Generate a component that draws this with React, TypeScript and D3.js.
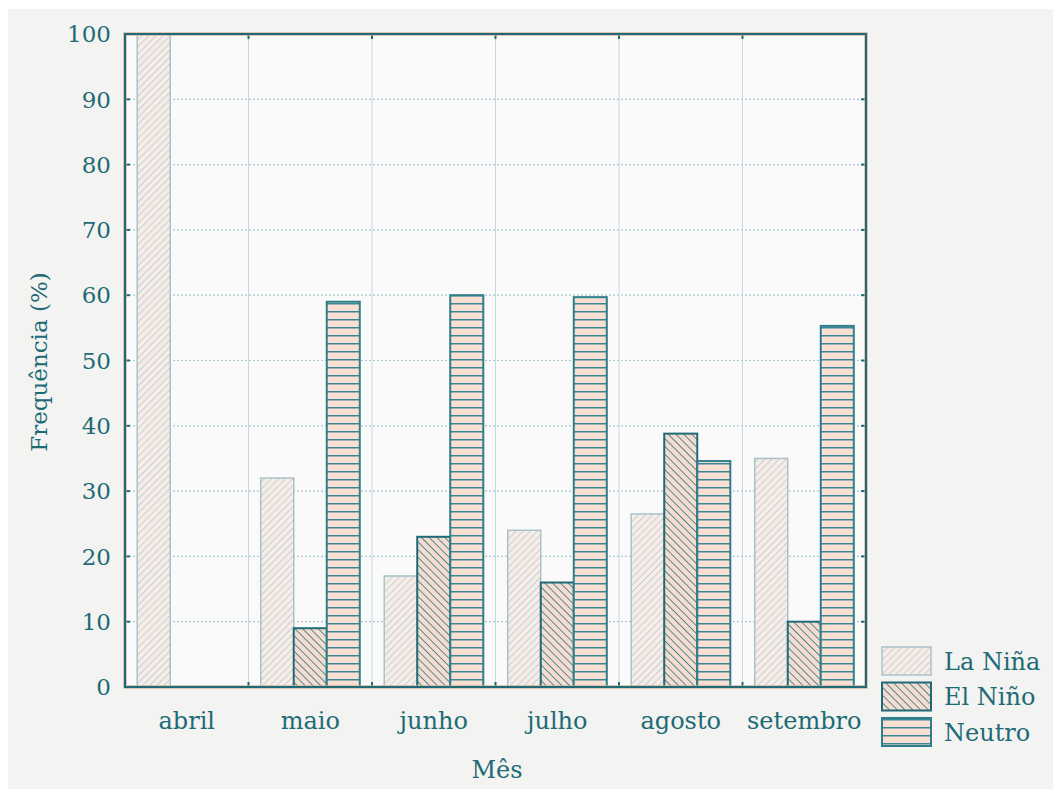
import React from "react";
import * as d3 from "d3";

const months = ["abril", "maio", "junho", "julho", "agosto", "setembro"];
const series = ["La Niña", "El Niño", "Neutro"];
const laNina = [100, 32, 17, 24, 26.5, 35];
const elNino = [0, 9, 23, 16, 38.8, 10];
const neutro = [0, 59, 60, 59.7, 34.6, 55.3];
const yTicks = [0, 10, 20, 30, 40, 50, 60, 70, 80, 90, 100];

const W = 1053;
const H = 789;
const M = { left: 125, right: 866, top: 34, bottom: 687 };

const TEAL = "#1e6b77";
const FONT = "'DejaVu Serif', serif";

const seriesStyle: Record<string, { fill: string; stroke: string; sw: number }> = {
  "La Niña": { fill: "url(#pLa)", stroke: "#a9c2ca", sw: 1.5 },
  "El Niño": { fill: "url(#pEl)", stroke: TEAL, sw: 2 },
  Neutro: { fill: "url(#pNe)", stroke: "#2f7e8b", sw: 2 },
};

export default function App() {
  const x = d3.scaleBand<string>().domain(months).range([M.left, M.right]).padding(0);
  const bw = x.bandwidth();
  const xs = d3.scaleBand<string>().domain(series).range([0, bw]).paddingInner(0).paddingOuter(0.37);
  const y = d3.scaleLinear().domain([0, 100]).range([M.bottom, M.top]);
  const values: Record<string, number[]> = { "La Niña": laNina, "El Niño": elNino, Neutro: neutro };

  const boundaries = months.slice(1).map((m) => x(m) as number);

  return (
    <svg width={W} height={H} style={{ position: "absolute", left: 0, top: 0 }} fontFamily={FONT}>
      <defs>
        <pattern id="pLa" patternUnits="userSpaceOnUse" width="5" height="5" patternTransform="rotate(45)">
          <rect width="5" height="5" fill="#f8ece6" />
          <line x1="0" y1="0" x2="0" y2="5" stroke="#a6c3cc" strokeWidth="1.3" />
        </pattern>
        <pattern id="pEl" patternUnits="userSpaceOnUse" width="5.5" height="5.5" patternTransform="rotate(-45)">
          <rect width="5.5" height="5.5" fill="#f6dccf" />
          <line x1="0" y1="0" x2="0" y2="5.5" stroke="#2a7886" strokeWidth="1.6" />
        </pattern>
        <pattern id="pNe" patternUnits="userSpaceOnUse" width="8" height="8" y={M.bottom}>
          <rect width="8" height="8" fill="#f9dfd2" />
          <line x1="0" y1="0.5" x2="8" y2="0.5" stroke="#3a8895" strokeWidth="2" />
        </pattern>
      </defs>
      <rect x={0} y={0} width={W} height={H} fill="#ffffff" />
      <rect x={8} y={9} width={W - 8} height={H - 9} fill="#f3f3f1" />
      <rect x={M.left} y={M.top} width={M.right - M.left} height={M.bottom - M.top} fill="#fafafa" />

      {/* horizontal dotted grid */}
      {yTicks.slice(1, -1).map((t) => (
        <line key={"h" + t} x1={M.left} x2={M.right} y1={y(t)} y2={y(t)} stroke="#a9c7d0" strokeWidth={1.2} strokeDasharray="2,2" />
      ))}
      {/* vertical grid */}
      {boundaries.map((b, i) => (
        <line key={"v" + i} x1={b} x2={b} y1={M.top} y2={M.bottom} stroke="#c2d8de" strokeWidth={1} />
      ))}

      {/* bars */}
      {series.map((s) =>
        months.map((m, i) => {
          const v = values[s][i];
          if (v <= 0) return null;
          const bx = (x(m) as number) + (xs(s) as number);
          const st = seriesStyle[s];
          return (
            <rect
              key={s + m}
              x={bx}
              y={y(v)}
              width={xs.bandwidth()}
              height={M.bottom - y(v)}
              fill={st.fill}
              stroke={st.stroke}
              strokeWidth={st.sw}
            />
          );
        })
      )}

      {/* ticks */}
      {yTicks.slice(1, -1).map((t) => (
        <g key={"t" + t}>
          <line x1={M.left} x2={M.left + 5} y1={y(t)} y2={y(t)} stroke={TEAL} strokeWidth={2} />
          <line x1={M.right - 5} x2={M.right} y1={y(t)} y2={y(t)} stroke={TEAL} strokeWidth={2} />
        </g>
      ))}
      {boundaries.map((b, i) => (
        <g key={"bt" + i}>
          <line x1={b} x2={b} y1={M.bottom - 5} y2={M.bottom} stroke={TEAL} strokeWidth={2} />
          <line x1={b} x2={b} y1={M.top} y2={M.top + 5} stroke={TEAL} strokeWidth={2} />
        </g>
      ))}

      {/* frame */}
      <rect x={M.left} y={M.top} width={M.right - M.left} height={M.bottom - M.top} fill="none" stroke="#f3b79c" strokeWidth={4} opacity={0.6} />
      <rect x={M.left} y={M.top} width={M.right - M.left} height={M.bottom - M.top} fill="none" stroke={TEAL} strokeWidth={2.2} />

      {/* y tick labels */}
      {yTicks.map((t) => (
        <text key={"yl" + t} x={111} y={y(t)} dy="0.36em" textAnchor="end" fontSize={23} fill={TEAL}>
          {t}
        </text>
      ))}

      {/* x labels */}
      {months.map((m) => (
        <text key={"xl" + m} x={(x(m) as number) + bw / 2} y={729} textAnchor="middle" fontSize={24} fill={TEAL}>
          {m}
        </text>
      ))}

      {/* axis titles */}
      <text x={497} y={778} textAnchor="middle" fontSize={24} fill={TEAL}>
        Mês
      </text>
      <text transform={`translate(47,362) rotate(-90)`} textAnchor="middle" fontSize={23} fill={TEAL}>
        Frequência (%)
      </text>

      {/* legend */}
      {series.map((s, i) => {
        const st = seriesStyle[s];
        const ly = 647 + i * 35.5;
        return (
          <g key={"lg" + s}>
            <rect x={882} y={ly} width={49} height={28} fill={st.fill} stroke={st.stroke} strokeWidth={st.sw} />
            <text x={944} y={ly + 14} dy="0.36em" fontSize={24} fill={TEAL}>
              {s}
            </text>
          </g>
        );
      })}
    </svg>
  );
}
